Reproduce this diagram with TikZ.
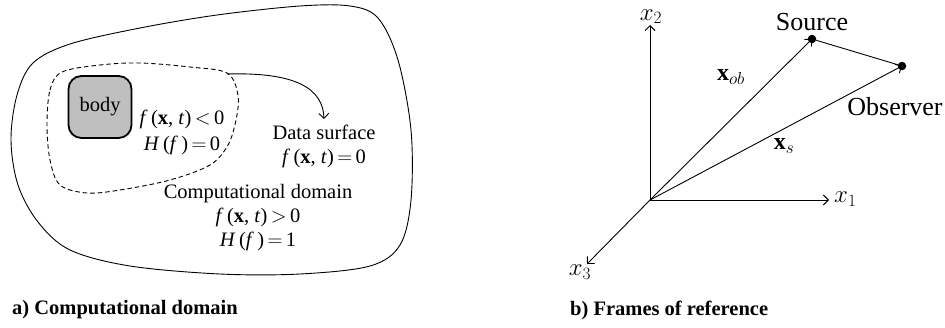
\documentclass[tikz,border=0pt]{standalone}
\usepackage{fontspec}
\setmainfont{Liberation Serif}
\usetikzlibrary{arrows.meta}
\newcommand{\fx}[1]{\textit{f}\,(\textbf{x}, \textit{t})\,$#1$}
\newcommand{\Hf}[1]{\textit{H}\,(\textit{f}\,)\,$=$\,#1}
\tikzset{
  ln/.style={line width=0.9pt},
  tip/.style={-{Straight Barb[length=5pt,width=10pt,line width=0.9pt]}},
  dotnode/.style={circle,fill=black,inner sep=0pt,minimum size=8.5pt},
  lbl/.style={font=\fontsize{20.5}{23}\selectfont,align=center,inner sep=1pt},
  biglbl/.style={font=\fontsize{26}{30}\selectfont,inner sep=1pt},
  axlbl/.style={font=\fontsize{24}{28}\selectfont,inner sep=0pt},
  captext/.style={font=\fontsize{20.5}{23}\selectfont\bfseries,anchor=west,inner sep=0pt},
}
\begin{document}
\begin{tikzpicture}[x=1pt,y=-1pt]
\useasboundingbox (0,0) rectangle (945,327);
% ---------- panel a ----------
\draw[ln] plot[smooth cycle,tension=0.55] coordinates {
 (11,140) (17,95) (33,63) (70,44) (140,28) (217,15) (300,6) (350,6) (378,18) (398,60)
 (411,130) (411,200) (400,245) (370,266) (300,274) (220,274) (130,266) (70,250)
 (38,222) (18,185)};
\draw[ln,dashed,dash pattern=on 4.5pt off 3pt] plot[smooth cycle,tension=0.55] coordinates {
 (47,125) (50,90) (62,72) (100,65) (140,63) (190,67) (227,73) (238,95) (236,120)
 (228,145) (210,165) (170,180) (120,190) (87,193) (60,185) (50,160)};
\node[draw,fill=gray!50,line width=1.8pt,rounded corners=13pt,minimum width=63pt,
      minimum height=62pt,lbl] (body) at (100,107) {body};
\node[lbl] (inner) at (182,132) {\fx{<}\,0\\[3pt]\Hf{0}};
\coordinate (ds) at (227,74);
\node[lbl,anchor=north] (dsurf) at (324,124) {Data surface\\[1pt]\fx{=}\,0};
\draw[ln,tip] (ds) .. controls (295,72) and (323,88) .. ([yshift=5pt]dsurf.north);
\node[lbl] (comp) at (258,218) {Computational domain\\[1pt]\fx{>}\,0\\[1pt]\Hf{1}};
\node[captext] (capa) at (12,310) {a) Computational domain};
% ---------- panel b ----------
\coordinate (O) at (650,200);
\coordinate (e1) at (829,200);
\coordinate (e2) at (650,25);
\coordinate (e3) at (587,264);
\draw[ln,tip] (O) -- (e1);
\draw[ln,tip] (O) -- (e2);
\draw[ln,tip] (O) -- (e3);
\node[axlbl,anchor=west] (lx1) at (834,199) {$x_1$};
\node[axlbl,anchor=south] (lx2) at (651,24) {$x_2$};
\node[axlbl] (lx3) at (580,272) {$x_3$};
\node[dotnode] (src) at (812,39) {};
\node[dotnode] (obs) at (902,66) {};
\draw[ln,tip] (O) -- (src.center);
\draw[ln,tip] (O) -- (obs.center);
\draw[ln] (src) -- (obs);
\node[biglbl] (lsrc) at (812,22) {Source};
\node[biglbl] (lobs) at (895,107) {Observer};
\node[axlbl] (lxob) at (731,77) {$\mathbf{x}_{ob}$};
\node[axlbl] (lxs) at (784,146) {$\mathbf{x}_{s}$};
\node[captext] (capb) at (570,310) {b) Frames of reference};
\end{tikzpicture}
\end{document}
